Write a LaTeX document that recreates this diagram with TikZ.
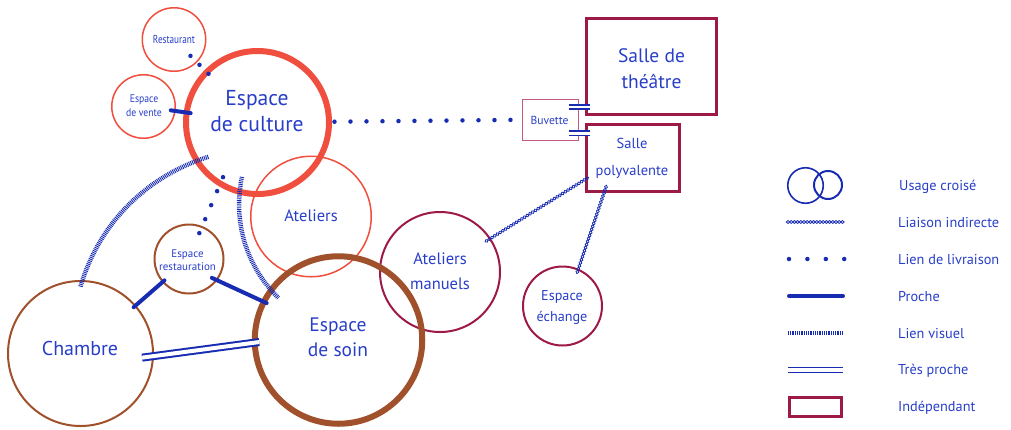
\documentclass[tikz,border=0pt]{standalone}
\usepackage{fontspec}
\setmainfont{PT Sans}
\usetikzlibrary{calc,decorations.markings}
\definecolor{tblue}{RGB}{40,62,200}
\definecolor{lblue}{RGB}{24,44,178}
\definecolor{cred}{RGB}{240,78,62}
\definecolor{cbrown}{RGB}{160,80,42}
\definecolor{ccrim}{RGB}{158,26,70}
\definecolor{cpink}{RGB}{196,92,128}
\newcommand{\fs}[2]{\fontsize{#1}{#2}\selectfont}
\begin{document}
\begin{tikzpicture}[x=1pt,y=-1pt,
  ring/.style={circle,draw,inner sep=0pt},
  lab/.style={text=tblue,align=center,inner sep=0pt},
  box/.style={rectangle,draw=ccrim,line width=3pt,inner sep=0pt},
  proche/.style={draw=lblue,line width=4pt,line cap=round},
  livraison/.style={draw=lblue,line width=4.5pt,line cap=round,dash pattern=on 0pt off 16pt},
  tp/.style={draw=lblue,double=white,line width=1.6pt,double distance=2.7pt},
  visuel/.style={draw=lblue,line width=4.5pt,dash pattern=on 0.9pt off 0.9pt},
  indirect/.style={postaction={decorate},decoration={markings,
     mark=between positions 0 and 1 step 3.2pt with {\draw[lblue,line width=0.8pt] (0,0) ellipse [x radius=1.8pt,y radius=1.45pt];}}},
  legtext/.style={text=tblue,anchor=base west,inner sep=0pt,font=\fs{14.3}{17}}
]
\useasboundingbox (0,0) rectangle (1011,429);

% thin circles
\node[ring,draw=cred,line width=1.5pt,minimum size=63.5pt] (restaurant) at (174,39.5) {};
\node[ring,draw=cred,line width=1.5pt,minimum size=63.5pt] (vente) at (143.5,106.5) {};
\node[ring,draw=cred,line width=1.5pt,minimum size=120.5pt] (ateliers) at (311,216.5) {};
\node[ring,draw=cbrown,line width=2pt,minimum size=145pt] (chambre) at (80.5,353.5) {};
\node[ring,draw=cbrown,line width=2pt,minimum size=69pt] (resto) at (189,259) {};
\node[ring,draw=ccrim,line width=2pt,minimum size=120pt] (amanuels) at (440,272) {};
\node[ring,draw=ccrim,line width=2pt,minimum size=79pt] (echange) at (562.5,306) {};
% thick circles
\node[ring,draw=cred,line width=6pt,minimum size=143pt] (culture) at (257.5,122.5) {};
\node[ring,draw=cbrown,line width=6pt,minimum size=167.5pt] (soin) at (338.5,340) {};
% boxes
\node[box,minimum width=130pt,minimum height=96pt] (theatre) at (651.5,66.5) {};
\node[box,minimum width=93pt,minimum height=67pt] (polyv) at (633,158) {};
\node[rectangle,draw=cpink,line width=1pt,minimum width=56pt,minimum height=41pt,inner sep=0pt] (buvette) at (550,119.5) {};

% connectors
\draw[proche,shorten <=-5pt,shorten >=-7pt] (vente) -- (culture);
\draw[proche,shorten <=-3pt,shorten >=-3pt] (chambre) -- (resto);
\draw[proche,shorten <=-6pt,shorten >=-6pt] (resto.-37) -- (soin.153);
\draw[tp,line width=2pt,double distance=4pt,shorten <=-12pt,shorten >=-7.5pt] (chambre.-2.3) -- (soin.182.6);
\draw[tp,shorten <=-10pt,shorten >=-5pt] ($(buvette.north east)!0.2!(buvette.south east)$) coordinate (bt) -- (bt -| theatre.west);
\draw[tp,shorten <=-10pt,shorten >=-5pt] ($(buvette.north east)!0.83!(buvette.south east)$) coordinate (bp) -- (bp -| polyv.west);
\draw[livraison,shorten <=2.5pt] (culture) -- (buvette);
\draw[livraison,dash pattern=on 0pt off 12.7pt,shorten <=-9.25pt,shorten >=-8.5pt] (restaurant) -- (culture);
\draw[livraison,dash pattern=on 0pt off 15.2pt,shorten <=-10pt,shorten >=-9.5pt] (culture.239) -- (resto.68.5);
\draw[visuel] ($(chambre.center)!0.91!(chambre.north)$) .. controls (100,220) and (150,175) .. ($(culture.center)!0.8!(culture.215)$);
\draw[visuel] ($(culture.center)!0.76!(culture.254)$) .. controls (233,220) and (245,265) .. ($(soin.center)!0.846!(soin.145)$);
\path[indirect] ([shift={(-4pt,-3pt)}]amanuels.34) -- ([shift={(4pt,-19pt)}]polyv.west);
\path[indirect] ([shift={(-27pt,6pt)}]polyv.south) -- ([shift={(-2pt,-4pt)}]echange.66);

% labels
\node[lab,font=\fs{11.5}{13}] (restaurant-t) at (174,39.5) {\scalebox{0.8}[1]{Restaurant}};
\node[lab,font=\fs{11}{14}] (vente-t) at (144,106) {\scalebox{0.88}[1]{Espace}\\\scalebox{0.88}[1]{de vente}};
\node[lab,font=\fs{21.6}{25.7}] (culture-t) at (257,111.3) {Espace\\de culture};
\node[lab,font=\fs{16.5}{20}] (ateliers-t) at (311,216) {Ateliers};
\node[lab,font=\fs{19.5}{25}] (soin-t) at (338,337) {Espace\\de soin};
\node[lab,font=\fs{20}{24}] (chambre-t) at (80,348) {Chambre};
\node[lab,font=\fs{11}{13.4}] (resto-t) at (187.5,260) {Espace\\restauration};
\node[lab,font=\fs{16.5}{25.7}] (amanuels-t) at (440,271.3) {Ateliers\\manuels};
\node[lab,font=\fs{14.2}{21}] (echange-t) at (562,308) {Espace\\échange};
\node[lab,font=\fs{19.5}{26.6}] (theatre-t) at (651.5,68.8) {Salle de\\théâtre};
\node[lab,font=\fs{14.5}{26.7}] (polyv-t) at (632,158.2) {Salle\\polyvalente};
\node[lab,font=\fs{11.6}{13}] (buvette-t) at (549.5,120.3) {Buvette};

% legend
\node[ring,draw=lblue,line width=1.6pt,minimum size=35.5pt] (lg-a) at (805.5,185.5) {};
\node[ring,draw=lblue,line width=2pt,minimum size=28pt] (lg-b) at (828,185) {};
\coordinate (li1) at (788,222); \coordinate (li2) at (843,222);
\coordinate (ld1) at (789,259); \coordinate (ld2) at (844.2,259);
\coordinate (lp1) at (789,296); \coordinate (lp2) at (843,296);
\coordinate (lv1) at (788,333); \coordinate (lv2) at (843,333);
\coordinate (lt1) at (788,370); \coordinate (lt2) at (843,370);
\path[indirect] (li1) -- (li2);
\draw[livraison,dash pattern=on 0pt off 18.4pt] (ld1) -- (ld2);
\draw[proche] (lp1) -- (lp2);
\draw[visuel] (lv1) -- (lv2);
\draw[tp,line width=1.3pt,double distance=3.3pt] (lt1) -- (lt2);
\node[box,minimum width=52pt,minimum height=19pt] (lg-box) at (815.5,407) {};

\node[legtext] (lt-1) at (899,190.7) {Usage croisé};
\node[legtext] (lt-2) at (898,227.7) {Liaison indirecte};
\node[legtext] (lt-3) at (898,264.3) {Lien de livraison};
\node[legtext] (lt-4) at (898,301) {Proche};
\node[legtext] (lt-5) at (898,338.3) {Lien visuel};
\node[legtext] (lt-6) at (898,374.3) {Très proche};
\node[legtext] (lt-7) at (898,411.7) {Indépendant};
\end{tikzpicture}
\end{document}
